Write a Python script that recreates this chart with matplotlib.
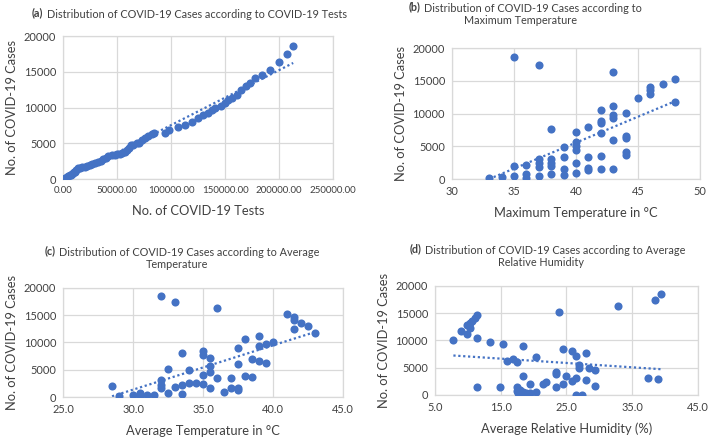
import numpy as np
import matplotlib
matplotlib.use("Agg")
from matplotlib import pyplot as plt

# (a) cases vs tests
tests = [2000, 3000, 4000, 5000, 6000, 7000, 8000, 9000, 10000, 11000, 12000, 14000,
         16000, 18000, 20000, 22000, 25000, 27000, 30000, 32000, 35000, 37000, 40000,
         42000, 45000, 48000, 50000, 53000, 55000, 57000, 59000, 61000, 63000, 65000,
         68000, 70000, 73000, 76000, 79000, 82000, 84000, 94000, 98000, 106000, 113000,
         119000, 125000, 130000, 134000, 138000, 141000, 146000, 150000, 153000, 156000,
         161000, 165000, 169000, 173000, 178000, 184000, 192000, 200000, 207000, 213000]
cases_a = [100, 200, 300, 400, 500, 600, 700, 850, 950, 1050, 1200, 1500,
           1600, 1700, 1700, 1850, 2000, 2150, 2300, 2400, 2550, 2750, 3000,
           3150, 3300, 3400, 3500, 3550, 3600, 3800, 4100, 4400, 4700, 4800,
           5000, 5100, 5400, 5700, 6000, 6300, 6400, 6500, 6800, 7300, 7600,
           8000, 8500, 9000, 9300, 9700, 10000, 10200, 10600, 11100, 11300,
           11800, 12400, 13000, 13400, 14100, 14500, 15300, 16300, 17500, 18600]

# (b) cases vs maximum temperature
tmax = [33, 34, 35, 35, 35, 36, 36, 36, 37, 37, 37, 37, 37,
        38, 38, 38, 38, 38, 39, 39, 39, 39, 40, 40, 40, 40, 40, 40,
        41, 41, 41, 41, 42, 42, 42, 42, 42, 42, 43, 43, 43, 43, 43, 43,
        44, 44, 44, 44, 44, 45, 46, 46, 46, 47, 48, 48]
cases_b = [100, 350, 450, 2000, 18600, 700, 150, 2100, 500, 1900, 2400, 3100, 17400,
           750, 2000, 2500, 3000, 7600, 600, 1600, 3300, 4900, 900, 2400, 4500, 5100, 5600, 7200,
           1300, 1700, 3400, 8000, 1500, 3500, 7000, 8500, 8900, 10600, 1500, 6000, 9300, 9800, 11100, 16300,
           3700, 4200, 6300, 6600, 10100, 12300, 13000, 13600, 14100, 14500, 15300, 11700]

# (c) cases vs average temperature
tavg = [28.5, 29.0, 30.0, 30.5, 30.5, 31.0, 31.5, 32.0, 32.0, 32.0, 32.0, 32.5, 32.5,
        33.0, 33.0, 33.5, 33.5, 33.5, 34.0, 34.0, 34.5, 35.0, 35.0, 35.0, 35.0,
        35.5, 35.5, 35.5, 35.5, 36.0, 36.0, 36.5, 37.0, 37.0, 37.5, 37.5, 37.5, 37.5,
        38.0, 38.0, 38.5, 38.5, 39.0, 39.0, 39.0, 39.5, 39.5, 40.0,
        41.0, 41.5, 41.5, 41.5, 42.0, 42.5, 43.0]
cases_c = [2100, 250, 300, 250, 800, 300, 400, 1650, 2250, 3050, 18600, 800, 5100,
           17400, 1900, 2250, 600, 8000, 2600, 4900, 2600, 2400, 4100, 7700, 8500,
           7200, 1650, 4500, 5600, 3400, 16300, 1000, 3500, 1600, 1600, 1200, 9000, 6000,
           10600, 3800, 6900, 3600, 6600, 9300, 11100, 6300, 9800, 10100,
           15300, 14700, 14100, 12400, 13500, 13000, 11700]

# (d) cases vs average relative humidity
rh = [7.8, 8.9, 9.9, 9.9, 10.3, 10.4, 10.7, 11.1, 11.4, 11.4, 11.4, 13.4, 14.9, 15.4,
      15.9, 16.9, 17.4, 17.4, 17.5, 17.6, 17.9, 18.4, 18.4, 18.4, 18.9, 19.4, 19.4,
      20.4, 20.4, 21.4, 21.9, 23.4, 23.4, 23.4, 23.9, 24.4, 24.4, 24.9, 25.9, 25.9,
      26.4, 26.4, 26.4, 26.9, 26.9, 27.4, 27.9, 27.9, 28.4, 29.4, 29.4,
      32.9, 37.4, 38.4, 38.9, 39.4]
cases_d = [10000, 11700, 11100, 12900, 13200, 12300, 13600, 14100, 14600, 10500, 1500, 9800, 1500, 9400,
           6300, 6600, 6000, 1400, 700, 400, 900, 3500, 8900, 600, 300, 2100, 300,
           600, 6900, 2000, 2300, 1500, 3800, 4300, 15300, 8500, 2000, 3400, 8000, 2500,
           7200, 3100, 50, 5500, 4900, 50, 7700, 2700, 5000, 4600, 1700,
           16300, 3100, 17400, 2900, 18600]

blue = "#4472C4"
grid = "#d9d9d9"
txt = "#404040"

plt.rcParams["font.family"] = ["Lato", "DejaVu Sans"]

fig = plt.figure(figsize=(7.09, 4.38), dpi=100)


def panel(rect, x, y, xlim, xticks, xfmt, xlabel, xsize=7.9):
    ax = fig.add_axes(rect)
    ax.scatter(x, y, s=34, color=blue, zorder=3, linewidths=0)
    k, b = np.polyfit(x, y, 1)
    xs = np.array([min(x), max(x)])
    ax.plot(xs, k * xs + b, ls=(0, (1, 1.2)), color=blue, lw=1.6, zorder=2)
    ax.set_xlim(*xlim)
    ax.set_ylim(0, 20000)
    ax.set_xticks(xticks)
    ax.set_xticklabels([xfmt.format(v) for v in xticks])
    ax.set_yticks([0, 5000, 10000, 15000, 20000])
    ax.grid(True, color=grid, lw=0.9)
    ax.set_axisbelow(True)
    for s in ax.spines.values():
        s.set_color(grid)
        s.set_linewidth(0.9)
    ax.tick_params(length=0, labelsize=7.9, colors=txt, pad=5)
    ax.tick_params(axis="x", labelsize=xsize)
    ax.set_xlabel(xlabel, fontsize=9.3, color=txt, labelpad=7)
    ax.set_ylabel("No. of COVID-19 Cases", fontsize=9.3, color=txt, labelpad=4)
    return ax


panel([0.0889, 0.5913, 0.381, 0.3265], tests, cases_a, (0, 250000),
      [0, 50000, 100000, 150000, 200000, 250000], "{:.2f}", "No. of COVID-19 Tests", xsize=7.0)
panel([0.6375, 0.5913, 0.3498, 0.299], tmax, cases_b, (30, 50),
      [30, 35, 40, 45, 50], "{:.0f}", "Maximum Temperature in °C")
panel([0.0889, 0.0936, 0.395, 0.2489], tavg, cases_c, (25, 45),
      [25, 30, 35, 40, 45], "{:.1f}", "Average Temperature in °C")
panel([0.6135, 0.0982, 0.371, 0.2489], rh, cases_d, (5, 45),
      [5, 15, 25, 35, 45], "{:.1f}", "Average Relative Humidity (%)")

W, H = 709, 438
FS = 7.8


def title(x, y, tag, line1, line2=None, cx=None):
    # bold panel tag, then the normal-weight text right after it
    t = fig.text(x / W, 1 - y / H, tag, ha="left", va="baseline",
                 fontsize=FS, color=txt, fontweight="bold")
    fig.text(0, 0, "")
    plt.annotate(line1, xy=(1, 0), xycoords=t, xytext=(2.5, 0), textcoords="offset points",
                 ha="left", va="baseline", fontsize=FS, color=txt, annotation_clip=False)
    if line2:
        fig.text(cx / W, 1 - (y + 14) / H, line2, ha="center", va="baseline",
                 fontsize=FS, color=txt)


title(32, 16, "(a)", "Distribution of COVID-19 Cases according to COVID-19 Tests")
title(409, 10, "(b)", "Distribution of COVID-19 Cases according to", "Maximum Temperature", 520)
title(45, 254, "(c)", "Distribution of COVID-19 Cases according to Average", "Temperature", 177)
title(410, 252, "(d)", "Distribution of COVID-19 Cases according to Average", "Relative Humidity", 541)

fig.savefig("out.png", dpi=100)
